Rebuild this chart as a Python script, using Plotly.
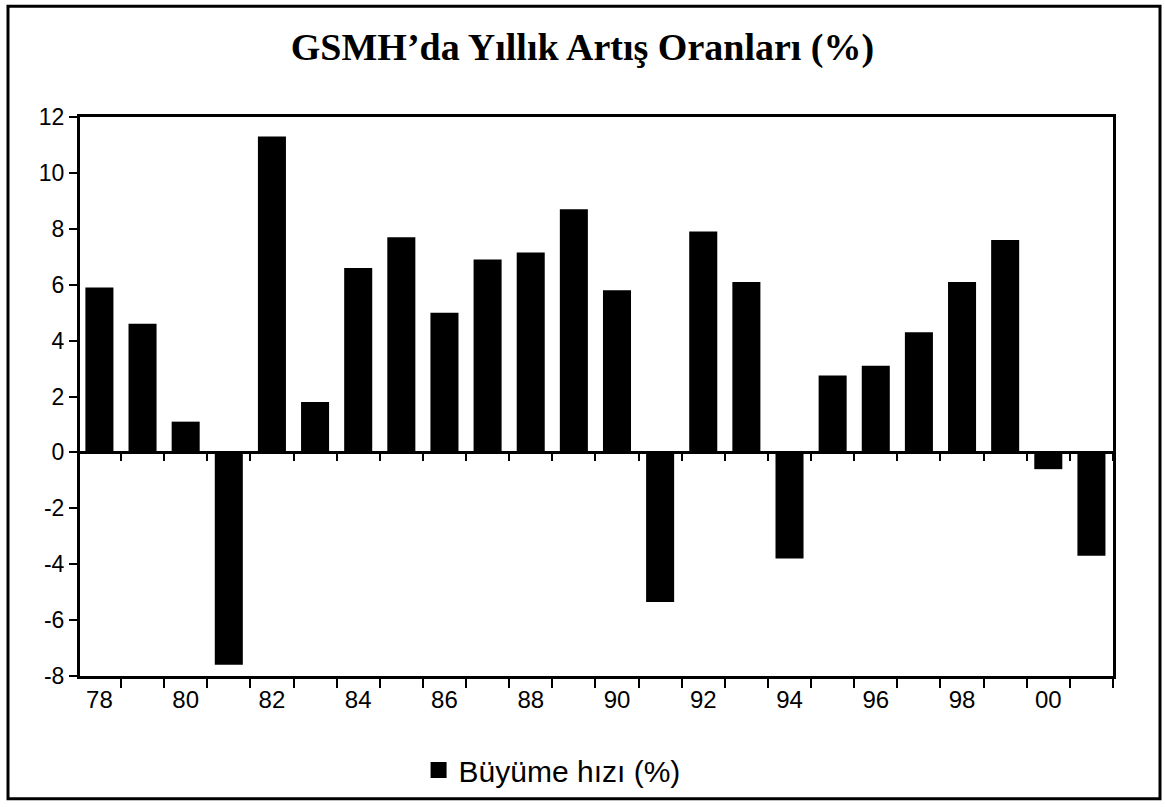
import plotly.graph_objects as go

years = list(range(1978, 2002))
growth = [5.9, 4.6, 1.1, -7.6, 11.3, 1.8, 6.6, 7.7, 5.0, 6.9, 7.15, 8.7, 5.8,
          -5.35, 7.9, 6.1, -3.8, 2.75, 3.1, 4.3, 6.1, 7.6, -0.6, -3.7]
tick_years = list(range(1978, 2002, 2))
tick_text = ["78", "80", "82", "84", "86", "88", "90", "92", "94", "96", "98", "00"]
y_ticks = list(range(-8, 13, 2))
y_tick_text = [str(v) for v in y_ticks]
series_name = "Büyüme hızı (%)"

L, R, T, B = 80, 52, 117, 130
W, H = 1165, 807
pw, ph = W - L - R, H - T - B
x_range = [1977.55, 2001.5]
y_range = [-8, 12]
boundaries = [y - 0.5 for y in years] + [years[-1] + 0.5]
sans = "Liberation Sans, Arial, sans-serif"

fig = go.Figure()
fig.add_trace(go.Bar(
    x=years, y=growth, name=series_name, legendgroup="g", showlegend=False,
    marker=dict(color="black", line=dict(width=0)), width=0.65,
))
# legend-only entry with a larger square swatch
fig.add_trace(go.Scatter(
    x=[None], y=[None], mode="markers", name=series_name, legendgroup="g",
    marker=dict(symbol="square", size=16, color="black"),
))
# invisible helper trace for the axis drawn along the zero line
fig.add_trace(go.Scatter(x=[years[0]], y=[0], xaxis="x2", mode="markers",
                         marker=dict(opacity=0), showlegend=False, hoverinfo="skip"))

fig.update_layout(
    width=W, height=H,
    margin=dict(l=L, r=R, t=T, b=B),
    paper_bgcolor="white", plot_bgcolor="white",
    title=dict(text="<b>GSMH’da Yıllık Artış Oranları (%)</b>",
               font=dict(family="Liberation Serif, Times New Roman, serif", size=38, color="black"),
               x=0.5, xanchor="center", y=1 - 47 / H, yanchor="middle"),
    showlegend=True,
    legend=dict(orientation="h", x=0.457, xanchor="center", y=-(770 - (H - B)) / ph, yanchor="middle",
                font=dict(family=sans, size=30, color="black"), itemwidth=30),
    shapes=[
        dict(type="rect", xref="paper", yref="paper",
             x0=(8 - L) / pw, x1=(1160 - L) / pw,
             y0=(H - B - 800) / ph, y1=(H - B - 6) / ph,
             line=dict(color="black", width=3), layer="below"),
    ],
    xaxis2=dict(overlaying="x", anchor="free",
                position=(0 - y_range[0]) / (y_range[1] - y_range[0]),
                side="bottom", range=x_range, showticklabels=False, ticks="",
                showline=False, showgrid=False, zeroline=False,
                minor=dict(tickvals=boundaries, ticks="outside", ticklen=8,
                           tickwidth=2, tickcolor="black", showgrid=False)),
)
fig.layout.xaxis.update(
    range=x_range, tickvals=tick_years, ticktext=tick_text, ticks="",
    showline=True, linecolor="black", linewidth=3, mirror=True, showgrid=False,
    tickfont=dict(family=sans, size=24, color="black"),
    minor=dict(tickvals=boundaries, ticks="outside", ticklen=9,
               tickwidth=2, tickcolor="black", showgrid=False),
    zeroline=False,
)
fig.update_yaxes(
    range=y_range, tickvals=y_ticks, ticktext=y_tick_text,
    ticks="outside", ticklen=8, tickwidth=2, tickcolor="black",
    showline=True, linecolor="black", linewidth=3, mirror=True, showgrid=False,
    zeroline=True, zerolinecolor="black", zerolinewidth=3,
    tickfont=dict(family=sans, size=23, color="black"),
)

fig.write_html("out.html", config={"displayModeBar": False},
               post_script="document.body.style.margin='0';")
